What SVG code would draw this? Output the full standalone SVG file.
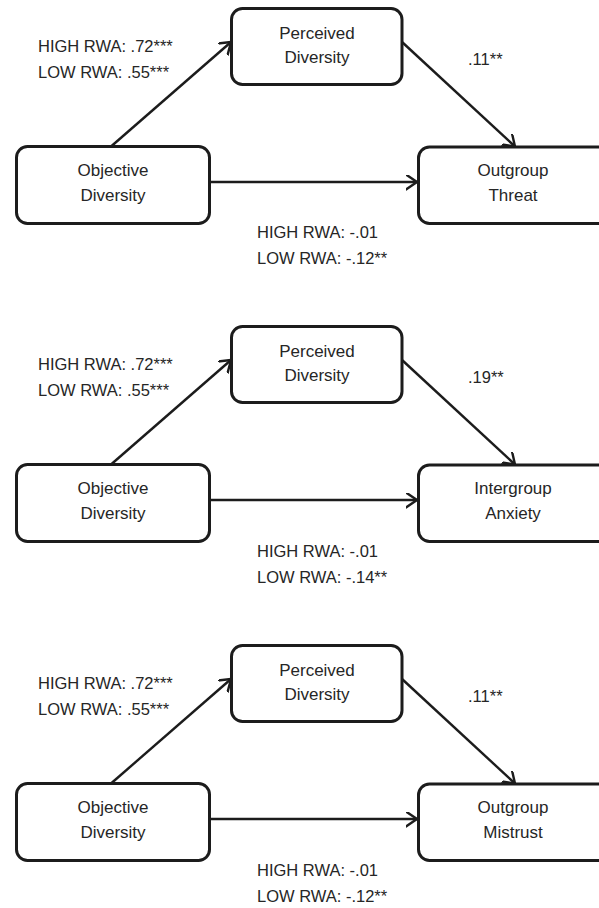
<svg xmlns="http://www.w3.org/2000/svg" width="599" height="908" viewBox="0 0 599 908">
  <style>
    .box { fill: #ffffff; stroke: #1c1c1c; stroke-width: 3; }
    .conn { fill: none; stroke: #1c1c1c; stroke-width: 2.4; }
    .node { font-family: "Liberation Sans", Arial, sans-serif; font-size: 17px; fill: #262626; text-anchor: middle; }
    .coef { font-family: "Liberation Sans", Arial, sans-serif; font-size: 16.5px; fill: #262626; }
  </style>
  <defs>
    <marker id="arrow" markerUnits="userSpaceOnUse" markerWidth="14" markerHeight="18" refX="11" refY="7.5" orient="auto">
      <path d="M0,0 L11,7.5 L0,15" fill="none" stroke="#1c1c1c" stroke-width="2.4" stroke-linejoin="round" stroke-linecap="round"/>
    </marker>
  </defs>
  <rect width="599" height="908" fill="#ffffff"/>

  <!-- Panel 1 -->
  <g id="panel1">
    <g id="p1-connectors">
      <line class="conn" x1="111" y1="146.5" x2="231" y2="42" marker-end="url(#arrow)"/>
      <line class="conn" x1="209.5" y1="182" x2="417" y2="182" marker-end="url(#arrow)"/>
      <line class="conn" x1="402" y1="42" x2="515" y2="146.5" marker-end="url(#arrow)"/>
    </g>
    <g id="p1-objective">
      <rect class="box" x="16.5" y="146.5" width="193" height="77" rx="11"/>
      <text class="node" x="113" y="176">Objective</text>
      <text class="node" x="113" y="200.5">Diversity</text>
    </g>
    <g id="p1-perceived">
      <rect class="box" x="231.5" y="8.5" width="170.5" height="76" rx="11"/>
      <text class="node" x="317" y="38.5">Perceived</text>
      <text class="node" x="317" y="63">Diversity</text>
    </g>
    <g id="p1-threat">
      <rect class="box" x="418.5" y="147" width="190" height="76.5" rx="11"/>
      <text class="node" x="513" y="176">Outgroup</text>
      <text class="node" x="513" y="200.5">Threat</text>
    </g>
    <g id="p1-labels">
      <text class="coef" x="38" y="52">HIGH RWA: .72***</text>
      <text class="coef" x="38" y="77.5">LOW RWA: .55***</text>
      <text class="coef" x="468" y="65">.11**</text>
      <text class="coef" x="257" y="238">HIGH RWA: -.01</text>
      <text class="coef" x="257" y="264">LOW RWA: -.12**</text>
    </g>
  </g>

  <!-- Panel 2 -->
  <g id="panel2" transform="translate(0,318)">
    <g id="p2-connectors">
      <line class="conn" x1="111" y1="146.5" x2="231" y2="42" marker-end="url(#arrow)"/>
      <line class="conn" x1="209.5" y1="182" x2="417" y2="182" marker-end="url(#arrow)"/>
      <line class="conn" x1="402" y1="42" x2="515" y2="146.5" marker-end="url(#arrow)"/>
    </g>
    <g id="p2-objective">
      <rect class="box" x="16.5" y="146.5" width="193" height="77" rx="11"/>
      <text class="node" x="113" y="176">Objective</text>
      <text class="node" x="113" y="200.5">Diversity</text>
    </g>
    <g id="p2-perceived">
      <rect class="box" x="231.5" y="8.5" width="170.5" height="76" rx="11"/>
      <text class="node" x="317" y="38.5">Perceived</text>
      <text class="node" x="317" y="63">Diversity</text>
    </g>
    <g id="p2-anxiety">
      <rect class="box" x="418.5" y="147" width="190" height="76.5" rx="11"/>
      <text class="node" x="513" y="176">Intergroup</text>
      <text class="node" x="513" y="200.5">Anxiety</text>
    </g>
    <g id="p2-labels">
      <text class="coef" x="38" y="52">HIGH RWA: .72***</text>
      <text class="coef" x="38" y="77.5">LOW RWA: .55***</text>
      <text class="coef" x="468" y="65">.19**</text>
      <text class="coef" x="257" y="238.5">HIGH RWA: -.01</text>
      <text class="coef" x="257" y="264.5">LOW RWA: -.14**</text>
    </g>
  </g>

  <!-- Panel 3 -->
  <g id="panel3" transform="translate(0,637)">
    <g id="p3-connectors">
      <line class="conn" x1="111" y1="146.5" x2="231" y2="42" marker-end="url(#arrow)"/>
      <line class="conn" x1="209.5" y1="182" x2="417" y2="182" marker-end="url(#arrow)"/>
      <line class="conn" x1="402" y1="42" x2="515" y2="146.5" marker-end="url(#arrow)"/>
    </g>
    <g id="p3-objective">
      <rect class="box" x="16.5" y="146.5" width="193" height="77" rx="11"/>
      <text class="node" x="113" y="176">Objective</text>
      <text class="node" x="113" y="200.5">Diversity</text>
    </g>
    <g id="p3-perceived">
      <rect class="box" x="231.5" y="8.5" width="170.5" height="76" rx="11"/>
      <text class="node" x="317" y="38.5">Perceived</text>
      <text class="node" x="317" y="63">Diversity</text>
    </g>
    <g id="p3-mistrust">
      <rect class="box" x="418.5" y="147" width="190" height="76.5" rx="11"/>
      <text class="node" x="513" y="176">Outgroup</text>
      <text class="node" x="513" y="200.5">Mistrust</text>
    </g>
    <g id="p3-labels">
      <text class="coef" x="38" y="52">HIGH RWA: .72***</text>
      <text class="coef" x="38" y="77.5">LOW RWA: .55***</text>
      <text class="coef" x="468" y="65">.11**</text>
      <text class="coef" x="257" y="239">HIGH RWA: -.01</text>
      <text class="coef" x="257" y="265">LOW RWA: -.12**</text>
    </g>
  </g>
</svg>
